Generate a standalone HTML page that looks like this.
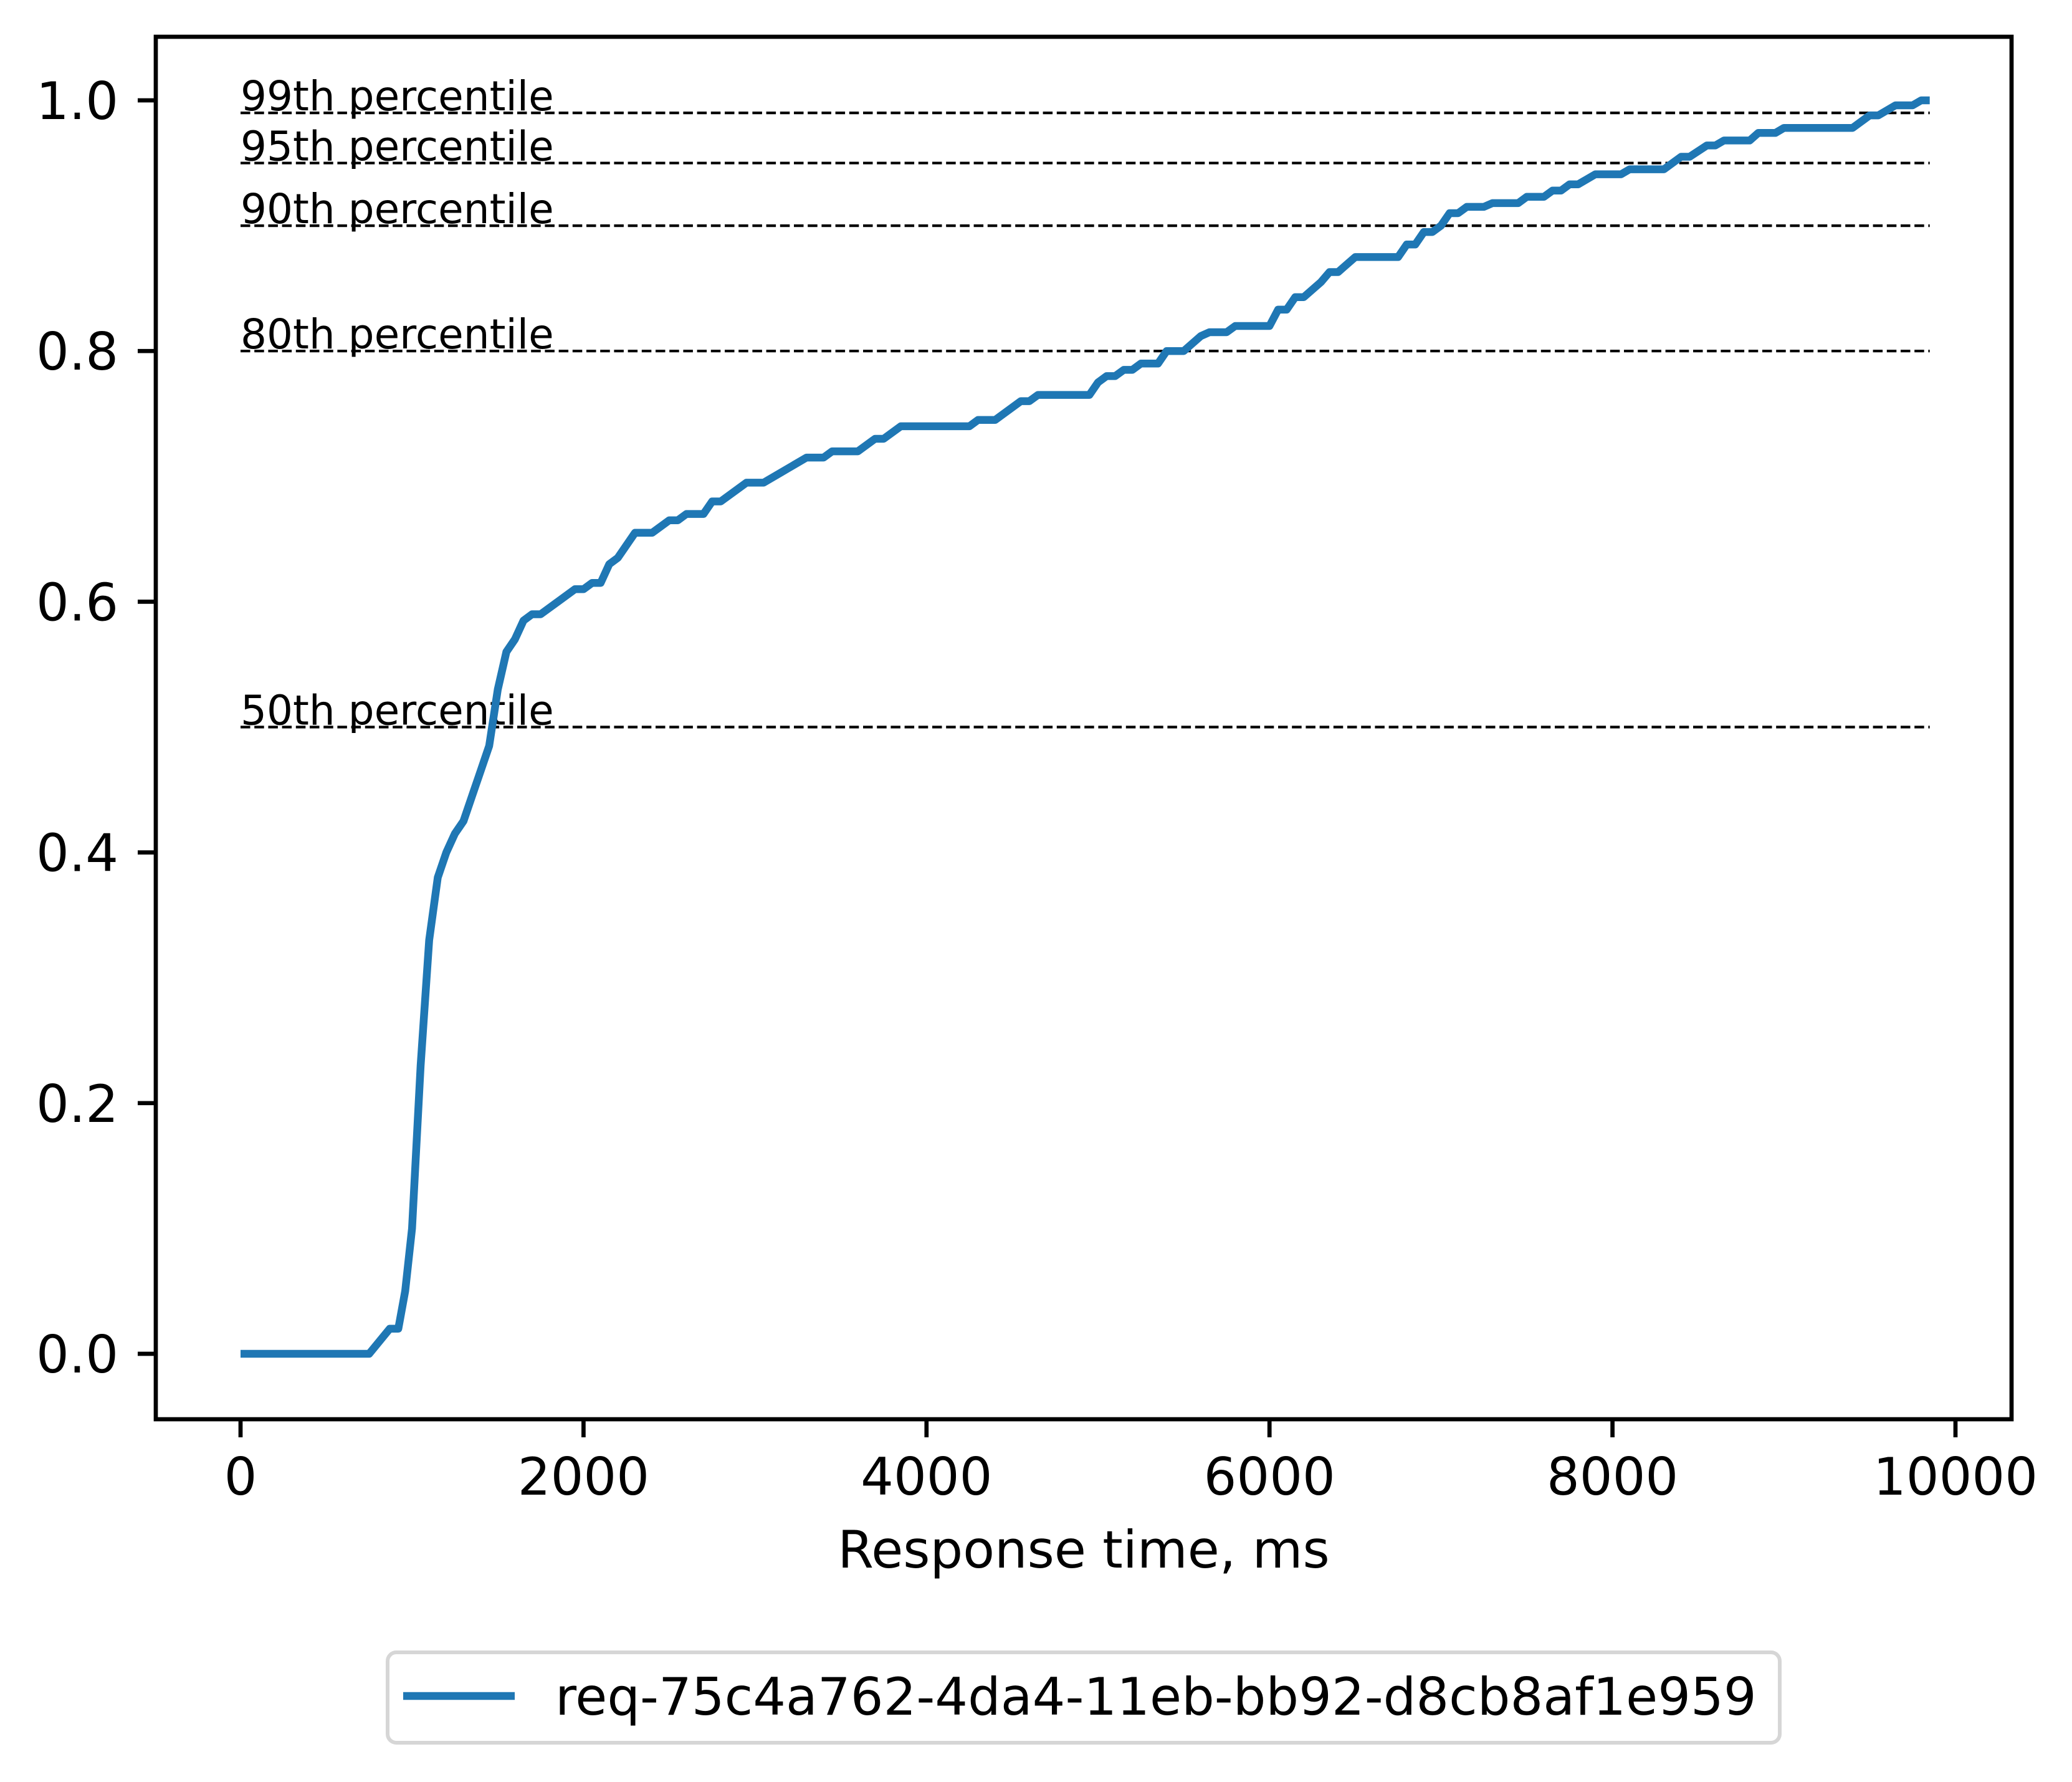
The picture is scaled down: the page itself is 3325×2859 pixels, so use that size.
<!DOCTYPE html>
<html><head><meta charset="utf-8"><style>
html,body{margin:0;padding:0;background:#fff}
svg{display:block;font-family:"DejaVu Sans","Liberation Sans",sans-serif}
</style></head><body>
<svg id="chart" width="3325" height="2859" viewBox="0 0 3325 2859" xmlns="http://www.w3.org/2000/svg">
<rect width="3325" height="2859" fill="#fff"/>
<g id="grid"></g>
<g id="series"></g>
<g id="axes"></g>
<g id="legend">
  <rect x="622" y="2651" width="2234" height="145" rx="14" fill="#fff" stroke="#d6d6d6" stroke-width="6"/>
  <line x1="647" y1="2721" x2="826" y2="2721" stroke="#1f77b4" stroke-width="12.5"/>
  <text x="891" y="2751" font-size="83" fill="#000">req-75c4a762-4da4-11eb-bb92-d8cb8af1e959</text>
</g>
</svg>
<script>
const xs = [0,750,870,920,960,1000,1050,1100,1150,1200,1250,1300,1350,1400,1450,1500,1550,1600,1650,1700,1750,1850,1950,2000,2050,2100,2150,2200,2300,2400,2500,2550,2600,2700,2750,2800,2900,2950,3050,3300,3400,3450,3600,3700,3750,3850,4250,4300,4400,4550,4600,4650,4950,5000,5050,5100,5150,5200,5250,5350,5400,5500,5600,5650,5750,5800,6000,6050,6100,6150,6200,6300,6350,6400,6500,6750,6800,6850,6900,6950,7000,7050,7100,7150,7250,7300,7450,7500,7600,7650,7700,7750,7800,7900,8050,8100,8300,8400,8450,8550,8600,8650,8800,8850,8950,9000,9400,9500,9550,9650,9750,9800,9850];
const ys = [0,0,0.02,0.02,0.05,0.10,0.23,0.33,0.38,0.40,0.415,0.425,0.445,0.465,0.485,0.53,0.56,0.57,0.585,0.59,0.59,0.60,0.61,0.61,0.615,0.615,0.63,0.635,0.655,0.655,0.665,0.665,0.67,0.67,0.68,0.68,0.69,0.695,0.695,0.715,0.715,0.72,0.72,0.73,0.73,0.74,0.74,0.745,0.745,0.76,0.76,0.765,0.765,0.775,0.78,0.78,0.785,0.785,0.79,0.79,0.80,0.80,0.812,0.815,0.815,0.82,0.82,0.833,0.833,0.843,0.843,0.855,0.863,0.863,0.875,0.875,0.885,0.885,0.895,0.895,0.90,0.91,0.91,0.915,0.915,0.918,0.918,0.923,0.923,0.928,0.928,0.933,0.933,0.941,0.941,0.945,0.945,0.955,0.955,0.964,0.964,0.968,0.968,0.974,0.974,0.978,0.978,0.988,0.988,0.996,0.996,1.0,1.0];
const percentiles = [0.99,0.95,0.90,0.80,0.50];
const percentileLabels = ["99th percentile","95th percentile","90th percentile","80th percentile","50th percentile"];
const xTicks = [0,2000,4000,6000,8000,10000];
const yTicks = [0.0,0.2,0.4,0.6,0.8,1.0];

const NS="http://www.w3.org/2000/svg";
const X = v => 386 + v*(3138-386)/10000;
const Y = v => 2172 - v*(2172-161);
function mk(tag, attrs, parent){const e=document.createElementNS(NS,tag);for(const k in attrs)e.setAttribute(k,attrs[k]);parent.appendChild(e);return e;}
const grid=document.getElementById('grid'), series=document.getElementById('series'), axes=document.getElementById('axes');
const xEnd = xs[xs.length-1];
percentiles.forEach((p,i)=>{
  const l=mk('line',{x1:X(0),x2:X(xEnd),y1:Y(p),y2:Y(p),stroke:'#000','stroke-width':4.2,'stroke-dasharray':'15.5 6.7'},grid);
  
  
  const t=mk('text',{x:X(0),y:Y(p)-4,'font-size':66,fill:'#000'},grid);
  t.textContent=percentileLabels[i];
  
  
});
const pts=xs.map((x,i)=>X(x).toFixed(1)+','+Y(ys[i]).toFixed(1)).join(' ');
const pl=mk('polyline',{points:pts,fill:'none',stroke:'#1f77b4','stroke-width':12.5,'stroke-linejoin':'round'},series);


const frame=mk('rect',{x:250,y:59,width:3228-250,height:2277-59,fill:'none',stroke:'#000','stroke-width':6.7},axes);


xTicks.forEach(v=>{
  const tk=mk('line',{x1:X(v),x2:X(v),y1:2277,y2:2306,stroke:'#000','stroke-width':6.7},axes);
  
  
  const t=mk('text',{x:X(v),y:2398,'font-size':83,'text-anchor':'middle',fill:'#000'},axes);
  t.textContent=String(v);
  
  
});
yTicks.forEach(v=>{
  const tk=mk('line',{x1:221,x2:250,y1:Y(v),y2:Y(v),stroke:'#000','stroke-width':6.7},axes);
  
  
  const t=mk('text',{x:190,y:Y(v)+30,'font-size':83,'text-anchor':'end',fill:'#000'},axes);
  t.textContent=v.toFixed(1);
  
  
});
const xt=mk('text',{x:(250+3228)/2,y:2515,'font-size':83,'text-anchor':'middle',fill:'#000'},axes);
xt.textContent='Response time, ms';


</script>
</body></html>
